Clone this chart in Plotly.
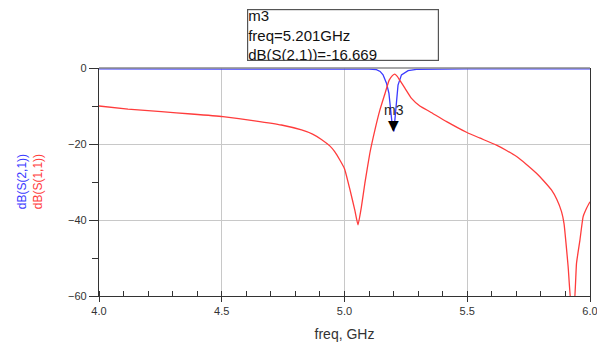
import plotly.graph_objects as go

# ---- data ----
freq_s21 = [4.0, 4.5, 5.0, 5.1, 5.13, 5.145, 5.157, 5.171, 5.181, 5.187, 5.191, 5.196, 5.201,
            5.206, 5.212, 5.218, 5.232, 5.259, 5.293, 5.4, 5.5, 6.0]
db_s21 = [-0.25, -0.25, -0.25, -0.3, -0.45, -0.9, -1.8, -4.0, -6.7, -10.2, -13.7, -16.0, -16.669,
          -13.0, -8.4, -4.5, -1.8, -0.7, -0.35, -0.25, -0.25, -0.25]

freq_s11 = [4.0, 4.118, 4.254, 4.376, 4.505, 4.634, 4.743, 4.825, 4.87, 4.906, 4.94, 4.96,
            4.981, 5.0, 5.021, 5.042, 5.055, 5.069, 5.083, 5.103, 5.124, 5.144, 5.165,
            5.182, 5.195, 5.205, 5.215, 5.225, 5.246, 5.273, 5.307, 5.348, 5.416, 5.497,
            5.55, 5.619, 5.66, 5.701, 5.74, 5.782, 5.81, 5.843, 5.865, 5.884, 5.894, 5.911,
            5.925, 5.934, 5.945, 5.959, 5.972, 5.986, 6.0]
db_s11 = [-10.0, -10.8, -11.5, -12.1, -12.8, -13.9, -15.0, -16.3, -17.4, -18.8, -20.5, -22.0,
          -24.2, -26.5, -31.7, -37.4, -41.3, -36.5, -30.3, -22.5, -16.3, -11.1, -6.7,
          -3.2, -2.0, -1.6, -2.2, -3.2, -5.3, -8.0, -10.0, -11.5, -14.1, -16.9,
          -18.4, -20.3, -21.7, -23.3, -25.3, -27.7, -29.6, -32.1, -34.6, -37.8, -40.9, -52.3,
          -63.0, -63.0, -51.4, -45.3, -39.1, -36.9, -35.2]

marker_name = "m3"
marker_freq = 5.201
marker_val = -16.669

BLUE = "#3b3bff"
RED = "#ff3c3c"
FONT = "Liberation Sans, Arial, sans-serif"
GRID = "#c8c8c8"

fig = go.Figure()
fig.add_trace(go.Scatter(x=freq_s21, y=db_s21, mode="lines",
                         line=dict(color=BLUE, width=1.3), showlegend=False))
fig.add_trace(go.Scatter(x=freq_s11, y=db_s11, mode="lines",
                         line=dict(color=RED, width=1.3, shape="spline", smoothing=0.4),
                         showlegend=False))

# marker triangle (tip at data point) + label
fig.add_annotation(x=marker_freq, y=marker_val, xref="x", yref="y",
                   text="\u25BC", showarrow=False, yanchor="bottom", yshift=-4,
                   font=dict(family="DejaVu Sans", size=14, color="black"))
fig.add_annotation(x=marker_freq, y=marker_val, xref="x", yref="y",
                   text=marker_name, showarrow=False, yanchor="bottom", yshift=11,
                   font=dict(family=FONT, size=14, color="#222"))

# marker readout box
fig.add_annotation(x=0.301, y=1.259, xref="paper", yref="paper",
                   xanchor="left", yanchor="top", align="left", showarrow=False,
                   text=f"{marker_name}<br>freq={marker_freq:.3f}GHz<br>dB(S(2,1))={marker_val:.3f}",
                   font=dict(family=FONT, size=15, color="#111"),
                   bgcolor="white", bordercolor="#555", borderwidth=1.2, borderpad=0,
                   width=190, height=50)

# y-axis title (two coloured lines)
fig.add_annotation(x=-0.14, y=0.5, xref="paper", yref="paper", textangle=-90,
                   xanchor="center", yanchor="middle", showarrow=False,
                   text=f"<span style='color:{BLUE}'>dB(S(2,1))</span><br>"
                        f"<span style='color:{RED}'>dB(S(1,1))</span>",
                   font=dict(family=FONT, size=12))

# top border (gray)
fig.add_shape(type="line", xref="x domain", yref="y domain", x0=0, x1=1, y0=1, y1=1,
              line=dict(color="#8a8a8a", width=1.5))

fig.update_layout(
    template="none",
    width=597, height=354,
    margin=dict(l=99, r=7, t=68, b=58),
    paper_bgcolor="white", plot_bgcolor="white",
    font=dict(family=FONT, color="#333"),
    xaxis=dict(range=[4.0, 6.0], tickmode="linear", tick0=4.0, dtick=0.5,
               tickformat=".1f", ticklabeloverflow="allow", automargin=False,
               showgrid=True, gridcolor=GRID, gridwidth=1,
               showline=True, linecolor="#333", linewidth=1.2, zeroline=False,
               ticks="outside", ticklen=5, tickcolor="#333",
               tickfont=dict(size=11, color="#333"),
               minor=dict(dtick=0.1, ticks="inside", ticklen=5, tickcolor="#333"),
               title=dict(text="freq, GHz", font=dict(size=14, color="#333"), standoff=12)),
    yaxis=dict(range=[-60, 0], tickmode="linear", tick0=0, dtick=20, automargin=False,
               showgrid=True, gridcolor=GRID, gridwidth=1,
               showline=True, linecolor="#333", linewidth=1.2, mirror=True, zeroline=False,
               ticks="outside", ticklen=9, tickcolor="#333",
               tickfont=dict(size=11, color="#333"),
               minor=dict(dtick=10, ticks="outside", ticklen=6, tickcolor="#333")),
)

fig.write_html("out.html")
